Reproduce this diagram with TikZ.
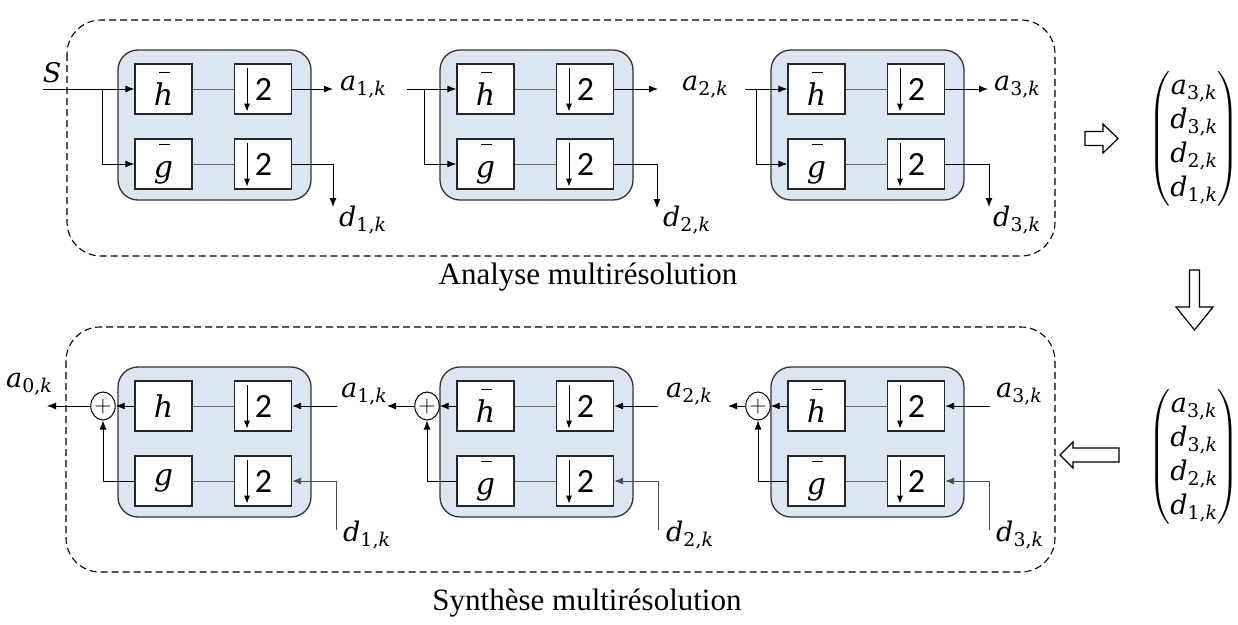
\RequirePackage{fix-cm}
\documentclass[tikz,border=0pt]{standalone}
\usepackage{amsmath}
\usepackage[no-math]{fontspec}
\setmainfont{Liberation Serif}
\newfontfamily\calib{Carlito}
\newfontfamily\mif{DejaVu Serif}
\newcommand{\vv}[1]{{\mif\itshape #1}}
\newcommand{\lbl}[3]{\vv{#1}\textsubscript{\mif #2,\vv{#3}}}
\newcommand{\barred}[1]{\setbox0\hbox{\vv{#1}}\vbox{\hbox to\wd0{\hskip0.28\wd0\vrule height1pt width0.55\wd0\hss}\kern0.5pt\box0}}
\usetikzlibrary{arrows.meta,shapes.geometric}
\definecolor{bankblue}{RGB}{220,230,242}
\newcommand{\dsnum}{{\calib\fontsize{34}{34}\selectfont\hspace*{1pt}2}}
\newcommand{\fbank}[5]{%
  \node[bankbg] (#1bg) at ({#2+51},{#3+36}) {};
  \node[fbox] (#1h) at (#2,#3) {#4};
  \node[fbox] (#1d) at ({#2+99.5},#3) {\dsnum};
  \node[fbox] (#1g) at (#2,{#3+75}) {#5};
  \node[fbox] (#1e) at ({#2+99.5},{#3+75}) {\dsnum};
  \draw[inner] (#1h) -- (#1d);
  \draw[inner] (#1g) -- (#1e);
  \draw[dsarrow] ([xshift=-16pt,yshift=-5pt]#1d.north) -- ([xshift=-16pt,yshift=3pt]#1d.south);
  \draw[dsarrow] ([xshift=-16pt,yshift=-5pt]#1e.north) -- ([xshift=-16pt,yshift=3pt]#1e.south);
}
\tikzset{
  lab/.style={font=\fontsize{27}{32}\selectfont, inner sep=0pt},
  bankbg/.style={draw=black!80, line width=1.3pt, fill=bankblue, rounded corners=20pt,
    minimum width=193pt, minimum height=150pt, inner sep=0pt},
  fbox/.style={draw=black!85, line width=1.3pt, fill=white, minimum width=57pt,
    minimum height=50pt, inner sep=0pt, font=\fontsize{30}{32}\selectfont},
  inner/.style={draw=black!60, line width=0.9pt},
  conn/.style={draw=black, line width=0.9pt},
  arr/.style={-{Latex[length=9pt,width=7pt]}},
  dsarrow/.style={draw=black, line width=0.9pt, -{Latex[length=8pt,width=6pt]}},
  dashbox/.style={draw=black, dash pattern=on 7pt off 4pt, line width=1.1pt, rounded corners=34pt},
  sumc/.style={draw=black, ellipse, line width=1pt, minimum width=24pt, minimum height=28pt,
    inner sep=0pt, fill=white, font=\fontsize{24}{24}\selectfont},
  hollow/.style={draw=black, line width=1.2pt, fill=white, line join=miter},
  title/.style={font=\fontsize{31}{36}\selectfont, inner sep=0pt},
  vec/.style={font=\fontsize{27}{34}\selectfont, inner sep=0pt}
}
\begin{document}
\begin{tikzpicture}[x=1pt,y=-1pt]
\useasboundingbox (0,0) rectangle (1238,624);
% dashed frames
\draw[dashbox] (67,20) rectangle (1055,256);
\draw[dashbox] (66,327) rectangle (1055,572);
\node[title] (tA) at (588,277) {Analyse multirésolution};
\node[title] (tS) at (587,603) {Synthèse multirésolution};
% ---------- analysis ----------
\fbank{t1}{163.5}{89}{\barred{h}}{\barred{g}}
\fbank{t2}{485.5}{89}{\barred{h}}{\barred{g}}
\fbank{t3}{816.5}{89}{\barred{h}}{\barred{g}}
% block 1
\coordinate (s0) at (43,89);
\coordinate (s1) at (102,89);
\coordinate (o1) at (333,89);
\coordinate (q1) at (333,207);
\draw[conn,arr] (s0) -- (t1h.west);
\draw[conn,arr] (s1) |- (t1g.west);
\draw[conn,arr] (t1d.east) -- (o1);
\draw[conn,arr] (t1e.east) -| (q1);
\node[lab] (S) at (52,73) {\vv{S}};
\node[lab,anchor=west] (la1) at (340,87) {\lbl{a}{1}{k}};
\node[lab,anchor=west] (ld1) at (339,220) {\lbl{d}{1}{k}};
% block 2
\coordinate (s20) at (407,89);
\coordinate (s21) at (424,89);
\coordinate (o2) at (658,89);
\coordinate (q2) at (657,208);
\draw[conn,arr] (s20) -- (t2h.west);
\draw[conn,arr] (s21) |- (t2g.west);
\draw[conn,arr] (t2d.east) -- (o2);
\draw[conn,arr] (t2e.east) -| (q2);
\node[lab,anchor=west] (ld2) at (663,220) {\lbl{d}{2}{k}};
% block 3
\node[lab,anchor=west] (la2) at (682,87) {\lbl{a}{2}{k}};
\coordinate (s30) at (745,89);
\coordinate (s31) at (756,89);
\coordinate (o3) at (988,89);
\coordinate (q3) at (989,207);
\draw[conn,arr] (s30) -- (t3h.west);
\draw[conn,arr] (s31) |- (t3g.west);
\draw[conn,arr] (t3d.east) -- (o3);
\draw[conn,arr] (t3e.east) -| (q3);
\node[lab,anchor=west] (la3) at (994,87) {\lbl{a}{3}{k}};
\node[lab,anchor=west] (ld3) at (993,220) {\lbl{d}{3}{k}};
% ---------- synthesis ----------
\fbank{b1}{163.5}{406}{\vv{h}}{\vv{g}}
\fbank{b2}{485.5}{406}{\barred{h}}{\barred{g}}
\fbank{b3}{816.5}{406}{\barred{h}}{\barred{g}}
\node[sumc] (c1) at (103,406) {$+$};
\node[sumc] (c2) at (427,406) {$+$};
\node[sumc] (c3) at (758,406) {$+$};
\coordinate (r1) at (47,406);
\coordinate (r2) at (387,406);
\coordinate (r3) at (728,406);
\coordinate (ia1) at (337,406);
\coordinate (ia2) at (658,406);
\coordinate (ia3) at (990,406);
\coordinate (id1) at (336,530);
\coordinate (id2) at (658,530);
\coordinate (id3) at (989,530);
\foreach \i in {1,2,3}{
  \draw[conn,arr] (b\i h.west) -- (c\i.east);
  \draw[conn,arr] (c\i.west) -- (r\i);
  \draw[conn,arr] (b\i g.west) -| (c\i.south);
  \draw[conn,arr] (ia\i) -- (b\i d.east);
  \draw[conn,arr,draw=black!70] (id\i) |- (b\i e.east);
}
\node[lab,anchor=west] (la0) at (6,384) {\lbl{a}{0}{k}};
\node[lab,anchor=west] (lb1) at (341,394) {\lbl{a}{1}{k}};
\node[lab,anchor=west] (lc1) at (343,535) {\lbl{d}{1}{k}};
\node[lab,anchor=west] (lb2) at (666,394) {\lbl{a}{2}{k}};
\node[lab,anchor=west] (lc2) at (666,535) {\lbl{d}{2}{k}};
\node[lab,anchor=west] (lb3) at (996,394) {\lbl{a}{3}{k}};
\node[lab,anchor=west] (lc3) at (996,535) {\lbl{d}{3}{k}};
% ---------- right column ----------
\node[vec] (v1) at (1194,139) {$\begin{pmatrix} \text{\lbl{a}{3}{k}}\\ \text{\lbl{d}{3}{k}}\\ \text{\lbl{d}{2}{k}}\\ \text{\lbl{d}{1}{k}}\end{pmatrix}$};
\node[vec] (v2) at (1194,457) {$\begin{pmatrix} \text{\lbl{a}{3}{k}}\\ \text{\lbl{d}{3}{k}}\\ \text{\lbl{d}{2}{k}}\\ \text{\lbl{d}{1}{k}}\end{pmatrix}$};
\draw[hollow] (1085,131.5) -- (1103,131.5) -- (1103,124) -- (1118,138.5) -- (1103,153) -- (1103,145.5) -- (1085,145.5) -- cycle;
\draw[hollow] (1189.5,270) -- (1199.5,270) -- (1199.5,307) -- (1213,307) -- (1194.5,330) -- (1176,307) -- (1189.5,307) -- cycle;
\draw[hollow] (1119,448) -- (1073,448) -- (1073,442) -- (1060,455) -- (1073,468) -- (1073,462) -- (1119,462) -- cycle;
\end{tikzpicture}
\end{document}
